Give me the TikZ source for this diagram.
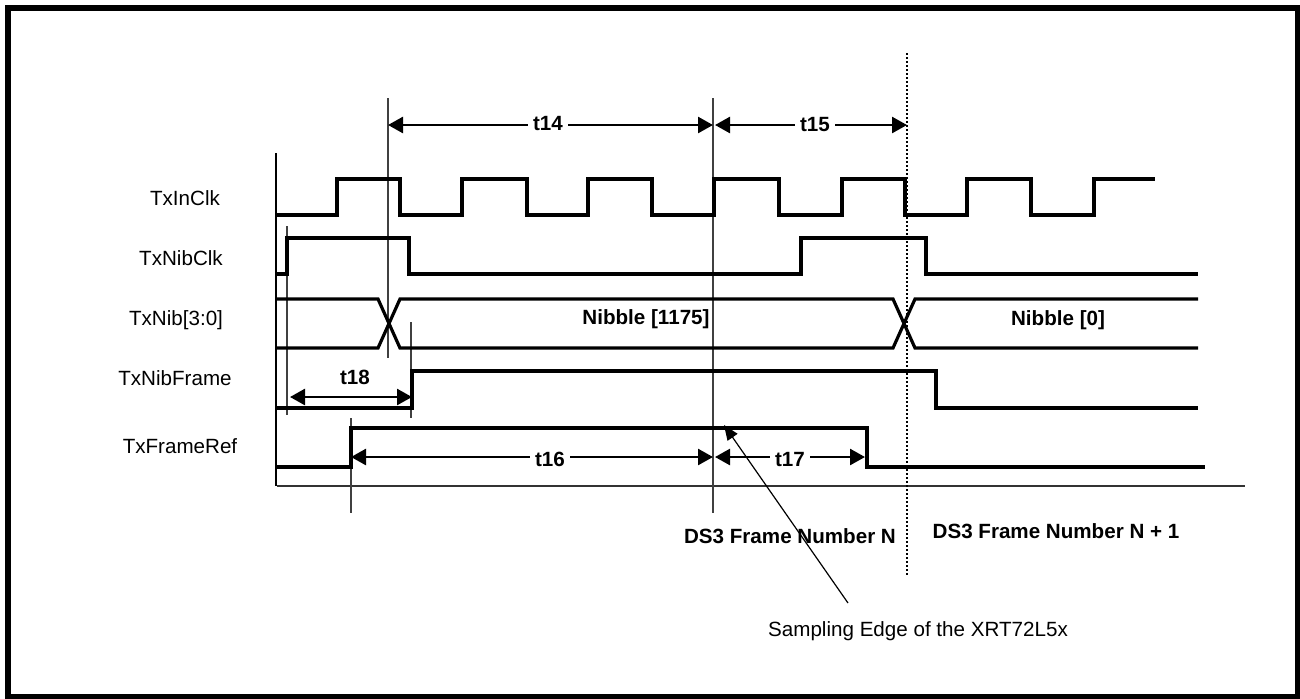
\documentclass[tikz,border=0pt]{standalone}
\usepackage{fontspec}
\setmainfont{Liberation Sans}
\usetikzlibrary{arrows.meta}

\begin{document}
\begin{tikzpicture}[x=0.5pt, y=-0.5pt,
    sig/.style={line width=1.6pt, line join=miter},
    guide/.style={black!75, line width=0.6pt},
    dim/.style={<->, >={Triangle[length=7.5pt,width=8pt]}, line width=1.3pt},
    lbl/.style={font=\fontsize{10.3}{12}\selectfont, inner sep=0pt, anchor=base},
    blbl/.style={lbl, font=\fontsize{10.3}{12}\selectfont\bfseries},
    tlbl/.style={blbl, fill=white, inner ysep=1pt, inner xsep=2.5pt}]
    \tikzset{pointer/.style = {-{Triangle[length=7.5pt,width=6pt]}, line width=0.6pt}}

    \useasboundingbox (0,0) rectangle (1300,698);
    \draw[line width=3pt] (8,8) rectangle (1298,697);

    % signal names
    \node[lbl] (inclk) at (185,205) {TxInClk};
    \node[lbl] (nibclk) at (181,265) {TxNibClk};
    \node[lbl] (nib) at (176,325) {TxNib[3:0]};
    \node[lbl] (nibframe) at (175,385) {TxNibFrame};
    \node[lbl] (frameref) at (180,453) {TxFrameRef};

    % axes
    \draw[line width=1pt] (276,153) -- (276,486);
    \draw[black!80, line width=0.8pt] (277,486) -- (1245,486);

    % guide lines
    \draw[guide] (388,98) -- (388,358);
    \draw[guide] (713,98) -- (713,513);
    \draw[guide] (287,226) -- (287,415);
    \draw[guide] (411,322) -- (411,418);
    \draw[guide] (351,418) -- (351,513);
    \draw[line width=1pt, dash pattern=on 1pt off 1pt] (907,53) -- (907,577);

    % TxInClk
    \draw[sig] (276,215) -- (337,215) -- (337,179) -- (400,179) -- (400,215)
        -- (462,215) -- (462,179) -- (527,179) -- (527,215)
        -- (588,215) -- (588,179) -- (652,179) -- (652,215)
        -- (714,215) -- (714,179) -- (779,179) -- (779,215)
        -- (842,215) -- (842,179) -- (905,179) -- (905,215)
        -- (967,215) -- (967,179) -- (1031,179) -- (1031,215)
        -- (1094,215) -- (1094,179) -- (1155,179);

    % TxNibClk
    \draw[sig] (275,274) -- (287,274) -- (287,238) -- (409,238) -- (409,274)
        -- (801,274) -- (801,238) -- (926,238) -- (926,274) -- (1198,274);

    % TxNib[3:0]
    \draw[sig] (276,299) -- (378,299) -- (400,348) -- (893,348) -- (915,299) -- (1198,299);
    \draw[sig] (276,348) -- (378,348) -- (400,299) -- (893,299) -- (915,348) -- (1198,348);
    \node[blbl] (nib1175) at (646,324) {Nibble [1175]};
    \node[blbl] (nib0) at (1058,325) {Nibble [0]};

    % TxNibFrame
    \draw[sig] (276,408) -- (412,408) -- (412,371) -- (936,371) -- (936,408) -- (1198,408);

    % TxFrameRef
    \draw[sig] (276,467) -- (351,467) -- (351,428) -- (867,428) -- (867,467) -- (1205,467);

    % timing marks
    \coordinate (a14) at (388,125);
    \coordinate (b14) at (713,125);
    \coordinate (a15) at (715,125);
    \coordinate (b15) at (907,125);
    \coordinate (a16) at (351,457);
    \coordinate (b16) at (713,457);
    \coordinate (a17) at (715,457);
    \coordinate (b17) at (865,457);
    \coordinate (a18) at (290,397);
    \coordinate (b18) at (412,397);

    \draw[dim] (a14) -- (b14);
    \draw[dim] (a15) -- (b15);
    \draw[dim] (a16) -- (b16);
    \draw[dim] (a17) -- (b17);
    \draw[dim] (a18) -- (b18);

    \node[tlbl] (t14) at (548,130) {t14};
    \node[tlbl] (t15) at (815,131) {t15};
    \node[tlbl] (t16) at (550,466) {t16};
    \node[tlbl] (t17) at (790,466) {t17};
    \node[blbl] (t18) at (355,384) {t18};

    % frames
    \node[blbl] (frameN) at (790,543) {DS3 Frame Number N};
    \node[blbl] (frameN1) at (1056,538) {DS3 Frame Number N + 1};

    % sampling edge
    \node[lbl] (sampling) at (918,636) {Sampling Edge of the XRT72L5x};
    \coordinate (samptail) at (848,603);
    \coordinate (samptip) at (724,425);
    \draw[pointer] (samptail) -- (samptip);
\end{tikzpicture}
\end{document}
